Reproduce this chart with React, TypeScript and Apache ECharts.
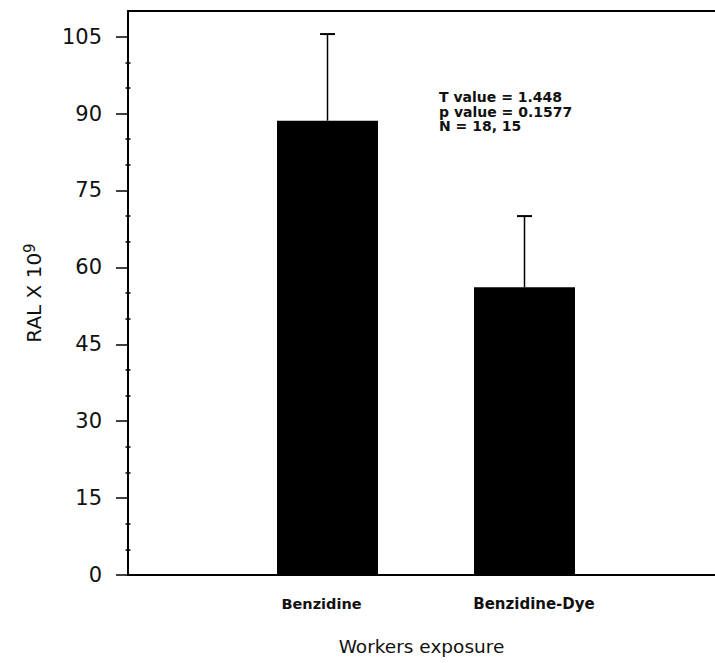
import React, { useEffect, useRef } from "react";
import * as echarts from "echarts";

const categories = ["Benzidine", "Benzidine-Dye"];
const means = [88.6, 56.1];
const upperErrors = [105.5, 70.0];
const yTicks = [0, 15, 30, 45, 60, 75, 90, 105];
const yMinorTicks = [5, 10, 20, 25, 35, 40, 50, 55, 65, 70, 80, 85, 95, 100];
const xLabelPositions = [1, 2];
const statLines = ["T value = 1.448", "p value = 0.1577", "N = 18, 15"];

export default function App() {
  const ref = useRef<HTMLDivElement>(null);
  useEffect(() => {
    if (!ref.current) return;
    const chart = echarts.init(ref.current, null, { renderer: "svg" });
    const font = "'DejaVu Sans', Arial, sans-serif";
    const barData = categories.map((c, i) => [i + 1, means[i]]);
    const errData = categories.map((c, i) => [i + 1, means[i], upperErrors[i]]);
    chart.setOption({
      animation: false,
      backgroundColor: "#ffffff",
      grid: { left: 128, top: 11, right: 0, bottom: 88, containLabel: false },
      xAxis: [
        {
          type: "value",
          min: -0.0127,
          max: 2.967,
          position: "bottom",
          axisLine: { show: true, onZero: false, lineStyle: { color: "#000", width: 2 } },
          axisTick: { show: false },
          splitLine: { show: false },
          axisLabel: {
            margin: 21,
            customValues: xLabelPositions,
            fontFamily: font,
            fontSize: 15,
            color: "#111",
            formatter: (v: number) => {
              if (Math.round(v) === 1) return "{c0|" + categories[0] + "}";
              if (Math.round(v) === 2) return "{c1|" + categories[1] + "}";
              return "";
            },
            rich: {
              c0: { fontFamily: font, fontSize: 14.5, fontWeight: "bold", color: "#111", padding: [0, 12, 0, 0] },
              c1: { fontFamily: font, fontSize: 15, fontWeight: "bold", color: "#111", padding: [0, 0, 0, 19] },
            },
          },
          name: "Workers exposure",
          nameLocation: "middle",
          nameGap: 62,
          nameTextStyle: { fontFamily: font, fontSize: 18.5, color: "#111" },
        },
        {
          type: "value",
          min: -0.0127,
          max: 2.967,
          position: "top",
          axisLine: { show: true, onZero: false, lineStyle: { color: "#000", width: 2 } },
          axisTick: { show: false },
          axisLabel: { show: false },
          splitLine: { show: false },
        },
      ],
      yAxis: [
        {
          type: "value",
          min: 0,
          max: 110,
          position: "left",
          axisLine: { show: true, onZero: false, lineStyle: { color: "#000", width: 2 } },
          axisTick: {
            show: true,
            inside: false,
            length: 12,
            customValues: yTicks,
            lineStyle: { color: "#000", width: 1.5 },
          },
          axisLabel: {
            margin: 26,
            customValues: yTicks,
            fontFamily: font,
            fontSize: 21,
            color: "#111",
          },
          splitLine: { show: false },
          name: "{a|RAL X 10}{b|9}",
          nameLocation: "middle",
          nameGap: 82,
          nameRotate: 90,
          nameTextStyle: {
            rich: {
              a: { fontFamily: font, fontSize: 20, color: "#111" },
              b: { fontFamily: font, fontSize: 15, color: "#111", verticalAlign: "top", padding: [0, 0, 9, 0] },
            },
          },
        },
        {
          type: "value",
          min: 0,
          max: 110,
          position: "left",
          axisLine: { show: false },
          axisTick: {
            show: true,
            inside: false,
            length: 5,
            customValues: yMinorTicks,
            lineStyle: { color: "#000", width: 1.5 },
          },
          axisLabel: { show: false },
          splitLine: { show: false },
        },
      ],
      series: [
        {
          type: "bar",
          xAxisIndex: 0,
          yAxisIndex: 0,
          data: barData,
          barWidth: 101,
          itemStyle: { color: "#000" },
        },
        {
          type: "custom",
          xAxisIndex: 0,
          yAxisIndex: 0,
          data: errData,
          z: 3,
          renderItem: (params: any, api: any) => {
            const x = api.value(0);
            const p0 = api.coord([x, api.value(1)]);
            const p1 = api.coord([x, api.value(2)]);
            const half = 7.5;
            return {
              type: "group",
              children: [
                {
                  type: "line",
                  shape: { x1: p0[0], y1: p0[1], x2: p1[0], y2: p1[1] },
                  style: { stroke: "#000", lineWidth: 1.5 },
                },
                {
                  type: "line",
                  shape: { x1: p1[0] - half, y1: p1[1], x2: p1[0] + half, y2: p1[1] },
                  style: { stroke: "#000", lineWidth: 2 },
                },
              ],
            };
          },
        },
      ],
      graphic: statLines.map((line, i) => ({
        type: "text",
        left: 439,
        top: 90 + i * 14.5,
        style: {
          text: line,
          fontFamily: font,
          fontSize: 14,
          fontWeight: "bold",
          fill: "#111",
        },
      })),
    });
    return () => chart.dispose();
  }, []);
  return (
    <div
      ref={ref}
      style={{ position: "absolute", left: 0, top: 0, width: 715, height: 663 }}
    />
  );
}
